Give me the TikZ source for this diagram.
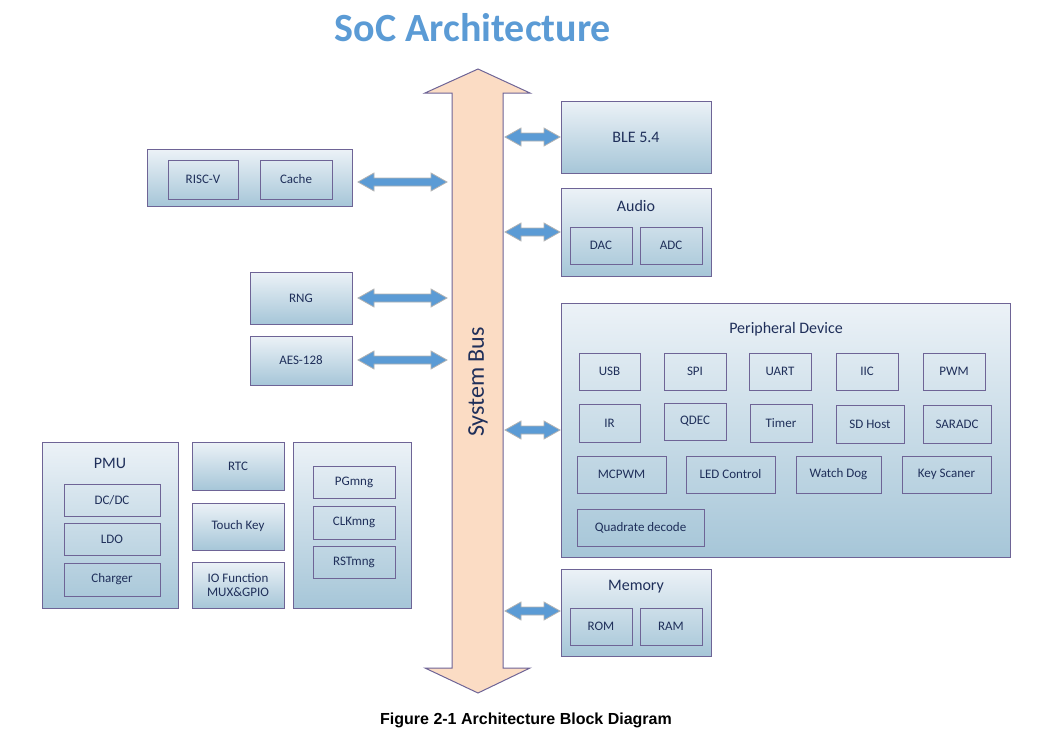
\documentclass[tikz,border=0pt]{standalone}
\usepackage{fontspec}
\setmainfont{Carlito}
\newfontfamily\capfont{Liberation Sans}
\definecolor{bord}{HTML}{6E6496}
\definecolor{btop}{HTML}{ECF2F7}
\definecolor{bbot}{HTML}{A6C6D8}
\definecolor{busf}{HTML}{FBDCC4}
\definecolor{arr}{HTML}{5B9BD5}
\definecolor{txt}{HTML}{1F2F5A}
\newcommand{\bx}[6]{%
 \pgfmathsetmacro\w{#4-#2}\pgfmathsetmacro\h{#5-#3}%
 \pgfmathsetmacro\cx{(#2+#4)/2}\pgfmathsetmacro\cy{(#3+#5)/2}%
 \node[box,minimum width=\w pt,minimum height=\h pt] (#1) at (\cx,\cy) {#6};}
\newcommand{\gx}[5]{%
 \pgfmathsetmacro\w{#4-#2}\pgfmathsetmacro\h{#5-#3}%
 \pgfmathsetmacro\cx{(#2+#4)/2}\pgfmathsetmacro\cy{(#3+#5)/2}%
 \node[grp,minimum width=\w pt,minimum height=\h pt] (#1) at (\cx,\cy) {};}
\newcommand{\dar}[3]{%
 \draw[darr] (#1,#3) -- ++(16,-9) -- ++(0,5) -- (#2-16,#3-4) -- ++(0,-5) -- (#2,#3) -- (#2-16,#3+9) -- ++(0,-5) -- (#1+16,#3+4) -- ++(0,5) -- cycle;}
\begin{document}
\begin{tikzpicture}[x=1pt,y=-1pt,
 box/.style={draw=bord,line width=0.9pt,inner sep=0pt,text=txt,font=\fontsize{13}{15}\selectfont,align=center},
 grp/.style={draw=bord,line width=0.9pt,top color=btop,bottom color=bbot,inner sep=0pt},
 darr/.style={fill=arr,draw=gray!60,line width=0.8pt},
 ttl/.style={text=txt,font=\fontsize{16}{18}\selectfont}]
\useasboundingbox (0,0) rectangle (1051,752);
\node[text=arr,font=\fontsize{40}{44}\selectfont\bfseries] (title) at (473,28) {SoC Architecture};
\node[font=\capfont\fontsize{16}{18}\selectfont\bfseries] (cap) at (526,720) {Figure 2-1 Architecture Block Diagram};
% bus
\draw[fill=busf,draw=bord,line width=1pt] (478,69) -- (530,93) -- (503,93) -- (503,668) -- (530,668) -- (478,693) -- (425,668) -- (452,668) -- (452,93) -- (425,93) -- cycle;
\node[rotate=90,text=txt,font=\fontsize{24}{26}\selectfont] (bus) at (478,382) {System Bus};
% left
\gx{cpu}{147}{149}{352}{206}
\bx{risc}{168}{160}{238}{199}{RISC-V}
\bx{cache}{260}{160}{332}{199}{Cache}
\gx{rngg}{250}{272}{352}{324}\node[box,draw=none] at (rngg) {RNG};
\gx{aesg}{250}{336}{352}{385}\node[box,draw=none] at (aesg) {AES-128};
\gx{pmu}{42}{442}{178}{608}\node[ttl] at (110,463) {PMU};
\bx{dcdc}{64}{484}{160}{516}{DC/DC}
\bx{ldo}{64}{523}{160}{555}{LDO}
\bx{chg}{64}{563}{160}{596}{Charger}
\gx{rtcg}{192}{442}{284}{490}\node[box,draw=none] at (rtcg) {RTC};
\gx{tkg}{192}{503}{284}{550}\node[box,draw=none] at (tkg) {Touch Key};
\gx{iog}{192}{562}{284}{608}\node[box,draw=none,font=\fontsize{13}{14}\selectfont] at (iog) {IO Function\\MUX\&GPIO};
\gx{mng}{293}{442}{411}{608}
\bx{pg}{313}{466}{395}{498}{PGmng}
\bx{clk}{313}{506}{395}{539}{CLKmng}
\bx{rst}{313}{546}{395}{578}{RSTmng}
% right
\gx{ble}{561}{101}{711}{173}\node[ttl] at (ble) {BLE 5.4};
\gx{aud}{561}{188}{711}{276}\node[ttl] at (636,206) {Audio};
\bx{dac}{570}{227}{632}{264}{DAC}
\bx{adc}{640}{227}{702}{264}{ADC}
\gx{per}{561}{303}{1010}{557}\node[ttl] at (786,329) {Peripheral Device};
\bx{usb}{579}{353}{640}{390}{USB}
\bx{spi}{664}{353}{726}{390}{SPI}
\bx{uart}{749}{353}{811}{390}{UART}
\bx{iic}{836}{353}{898}{390}{IIC}
\bx{pwm}{923}{353}{985}{390}{PWM}
\bx{ir}{579}{404}{640}{442}{IR}
\bx{qdec}{664}{403}{726}{440}{QDEC}
\bx{timer}{750}{404}{812}{442}{Timer}
\bx{sd}{836}{405}{904}{443}{SD Host}
\bx{sar}{923}{405}{991}{443}{SARADC}
\bx{mcp}{577}{456}{666}{493}{MCPWM}
\bx{led}{686}{456}{775}{493}{LED Control}
\bx{wd}{796}{456}{881}{493}{Watch Dog}
\bx{ks}{902}{456}{991}{493}{Key Scaner}
\bx{qd}{577}{509}{704}{546}{Quadrate decode}
\gx{mem}{561}{569}{711}{656}\node[ttl] at (636,587) {Memory};
\bx{rom}{570}{608}{632}{645}{ROM}
\bx{ram}{640}{608}{702}{645}{RAM}
% arrows
\dar{358}{447}{182}
\dar{358}{447}{298}
\dar{358}{447}{360}
\dar{505}{560}{137}
\dar{505}{560}{232}
\dar{505}{560}{430}
\dar{505}{560}{611}
\end{tikzpicture}
\end{document}
